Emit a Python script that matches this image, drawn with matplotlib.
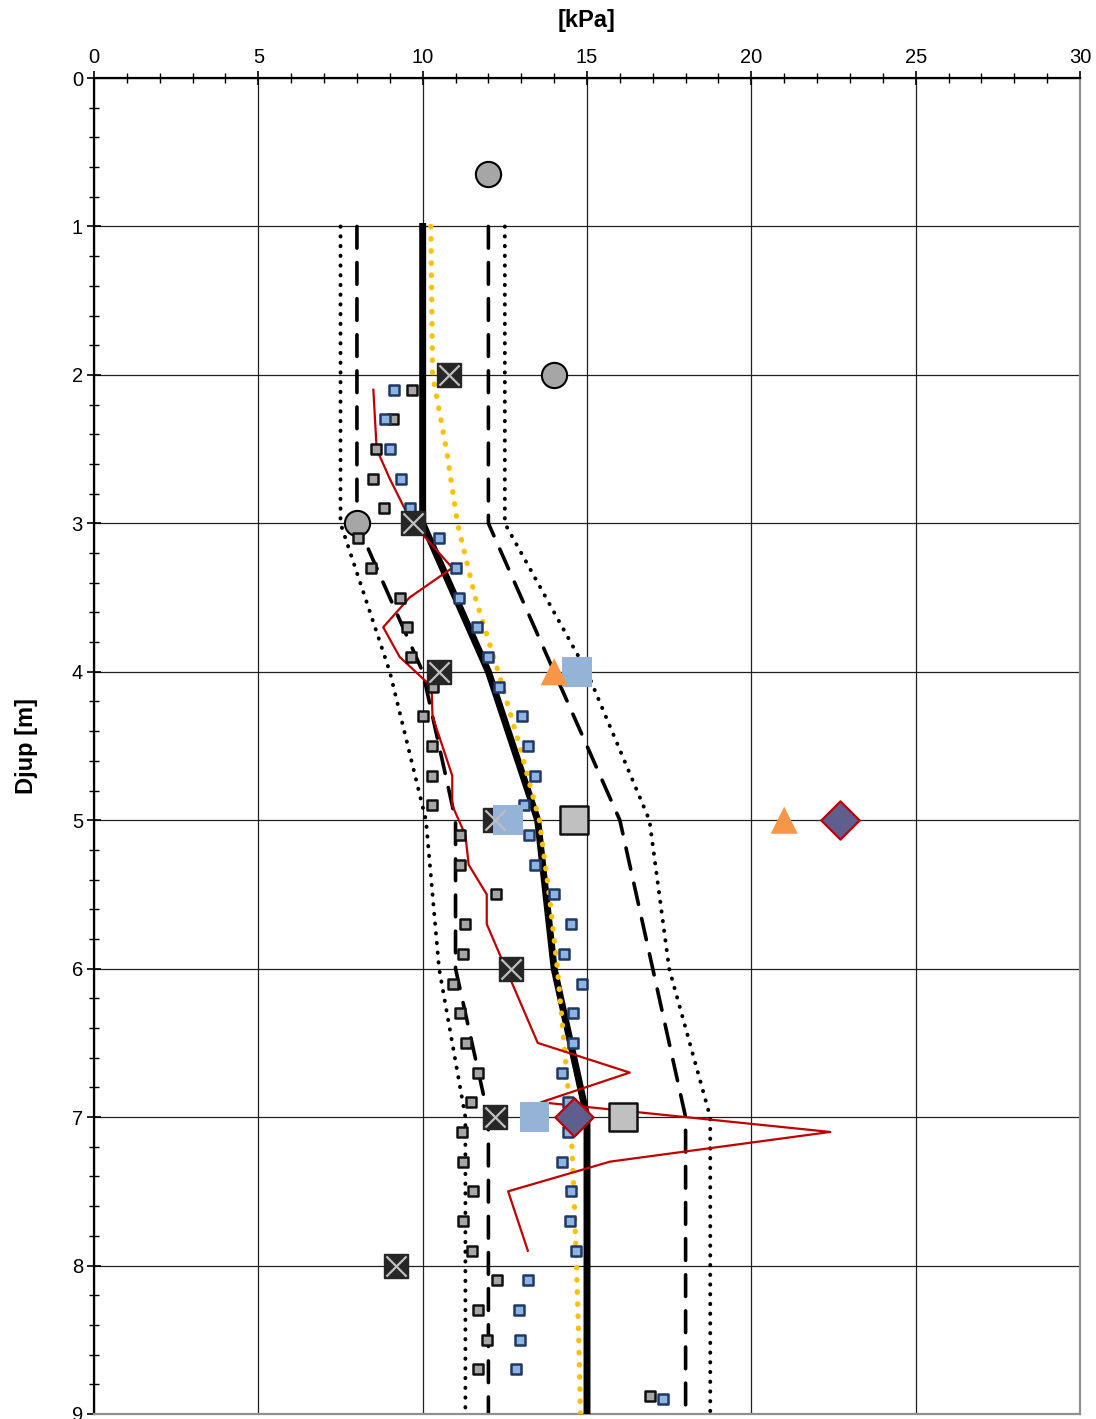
import matplotlib.pyplot as plt
import numpy as np

plt.rcParams['font.family'] = ['Liberation Sans', 'DejaVu Sans']

# main profile and envelopes (kPa, depth m)
prof_d = [1, 3, 4, 5, 6, 7, 9]
prof_v = [10, 10, 12, 13.5, 14, 15, 15]
in_lo = [8, 8, 10, 11, 11, 12, 12]
in_hi = [12, 12, 14, 16, 17, 18, 18]
out_lo = [7.5, 7.5, 9, 10.1, 10.5, 11.3, 11.3]
out_hi = [12.5, 12.5, 15, 16.9, 17.5, 18.75, 18.75]

yel_d = [1, 2, 2.5, 3, 3.5, 4, 4.5, 5, 5.5, 6, 6.5, 7, 7.5, 8, 8.5, 9]
yel_v = [10.25, 10.3, 10.72, 11.06, 11.6, 12.3, 12.95, 13.55, 13.85, 14.1, 14.3, 14.5, 14.6, 14.68, 14.75, 14.8]

red_d = [2.1, 2.3, 2.5, 2.7, 2.9, 3.0, 3.3, 3.5, 3.7, 3.9, 4.1, 4.3, 4.7, 4.9, 5.1, 5.3, 5.5, 5.7, 6.5, 6.7, 6.9, 7.1, 7.3, 7.5, 7.9]
red_v = [8.5, 8.55, 8.6, 9.0, 9.45, 9.7, 10.9, 9.6, 8.8, 9.3, 10.27, 10.3, 10.9, 10.9, 11.3, 11.4, 11.95, 11.95, 13.5, 16.3, 13.6, 22.4, 15.7, 12.6, 13.2]

sq_d = [2.1, 2.3, 2.5, 2.7, 2.9, 3.1, 3.3, 3.5, 3.7, 3.9, 4.1, 4.3, 4.5, 4.7, 4.9, 5.1, 5.3, 5.5, 5.7, 5.9,
        6.1, 6.3, 6.5, 6.7, 6.9, 7.1, 7.3, 7.5, 7.7, 7.9, 8.1, 8.3, 8.5, 8.7, 8.88]
gray_v = [9.69, 9.1, 8.59, 8.49, 8.83, 8.04, 8.44, 9.32, 9.52, 9.63, 10.32, 10.02, 10.29, 10.29, 10.28, 11.13, 11.13, 12.22, 11.29, 11.24,
          10.91, 11.13, 11.33, 11.69, 11.47, 11.2, 11.24, 11.54, 11.24, 11.5, 12.25, 11.68, 11.97, 11.69, 16.92]
blue_d = sq_d[:-1] + [8.9]
blue_v = [9.14, 8.86, 9.01, 9.35, 9.61, 10.5, 11.01, 11.12, 11.66, 12.0, 12.33, 13.02, 13.21, 13.43, 13.08, 13.23, 13.43, 14.0, 14.51, 14.3,
          14.84, 14.58, 14.58, 14.24, 14.41, 14.41, 14.24, 14.5, 14.48, 14.68, 13.2, 12.93, 12.97, 12.85, 17.32]

circ_v = [12.0, 14.0, 8.0]
circ_d = [0.65, 2.0, 3.0]
xsq_v = [10.8, 9.7, 10.5, 12.2, 12.7, 12.2, 9.2]
xsq_d = [2, 3, 4, 5, 6, 7, 8]
bsq_v = [14.7, 12.6, 13.4]
bsq_d = [4, 5, 7]
gsq_v = [14.6, 16.1]
gsq_d = [5, 7]
tri_v = [14.0, 21.0]
tri_d = [4, 5]
dia_v = [22.7, 14.6]
dia_d = [5, 7]

fig = plt.figure(figsize=(10.96, 14.19), dpi=100)
ax = fig.add_axes([94/1096, 5/1419, 986/1096, 1336/1419])

ax.set_xlim(0, 30)
ax.set_ylim(9, 0)
ax.xaxis.tick_top()
ax.xaxis.set_label_position('top')
ax.set_xticks(np.arange(0, 31, 5))
ax.set_xticks(np.arange(0, 31, 1), minor=True)
ax.set_yticks(np.arange(0, 10, 1))
ax.set_yticks(np.arange(0, 9.01, 0.2), minor=True)
ax.tick_params(which='major', direction='inout', length=10, width=1.2, labelsize=14.5, pad=3)
ax.tick_params(which='minor', direction='inout', length=7, width=1.0)
ax.grid(which='major', color='#202020', lw=0.9)
ax.set_axisbelow(True)
for s in ['top', 'left']:
    ax.spines[s].set_color('black')
    ax.spines[s].set_linewidth(1.6)
for s in ['bottom', 'right']:
    ax.spines[s].set_color('#909090')
    ax.spines[s].set_linewidth(1.6)

ax.set_xlabel('[kPa]', fontsize=17, fontweight='bold', labelpad=15)
ax.set_ylabel('Djup [m]', fontsize=17, fontweight='bold', labelpad=24)

# envelopes
ax.plot(out_lo, prof_d, color='black', lw=2.8, ls=(0, (0.1, 2.4)), dash_capstyle='round', zorder=2)
ax.plot(out_hi, prof_d, color='black', lw=2.8, ls=(0, (0.1, 2.4)), dash_capstyle='round', zorder=2)
ax.plot(in_lo, prof_d, color='black', lw=2.6, ls=(0, (6, 4)), dash_capstyle='round', zorder=2)
ax.plot(in_hi, prof_d, color='black', lw=2.6, ls=(0, (6, 4)), dash_capstyle='round', zorder=2)
ax.plot(prof_v, prof_d, color='black', lw=5, zorder=3)
ax.plot(yel_v, yel_d, color='#FFC000', lw=3.8, ls=(0, (0.1, 2.2)), dash_capstyle='round', zorder=3)
ax.plot(red_v, red_d, color='#C00000', lw=1.6, zorder=4)

# measurements
ax.scatter(circ_v, circ_d, s=330, marker='o', c='#A6A6A6', edgecolors='black', linewidths=1.5, zorder=5)
ax.scatter(gray_v, sq_d, s=55, marker='s', c='#A6A6A6', edgecolors='#111111', linewidths=1.8, zorder=6)
ax.scatter(blue_v, blue_d, s=55, marker='s', c='#8DB4E2', edgecolors='#1F3864', linewidths=1.8, zorder=6)
ax.scatter(xsq_v, xsq_d, s=300, marker='s', c='#262626', edgecolors='#262626', linewidths=1, zorder=7)
ax.scatter(xsq_v, xsq_d, s=210, marker='x', c='#BFBFBF', linewidths=1.6, zorder=8)
ax.scatter(bsq_v, bsq_d, s=450, marker='s', c='#95B3D7', edgecolors='none', zorder=7)
ax.scatter(gsq_v, gsq_d, s=400, marker='s', c='#C0C0C0', edgecolors='#111111', linewidths=1.8, zorder=7)
ax.scatter(tri_v, tri_d, s=380, marker='^', c='#F79646', edgecolors='none', zorder=7)
ax.scatter(dia_v, dia_d, s=380, marker='D', c='#5F5F8F', edgecolors='#C00000', linewidths=1.6, zorder=8)

fig.savefig('out.png', dpi=100)
